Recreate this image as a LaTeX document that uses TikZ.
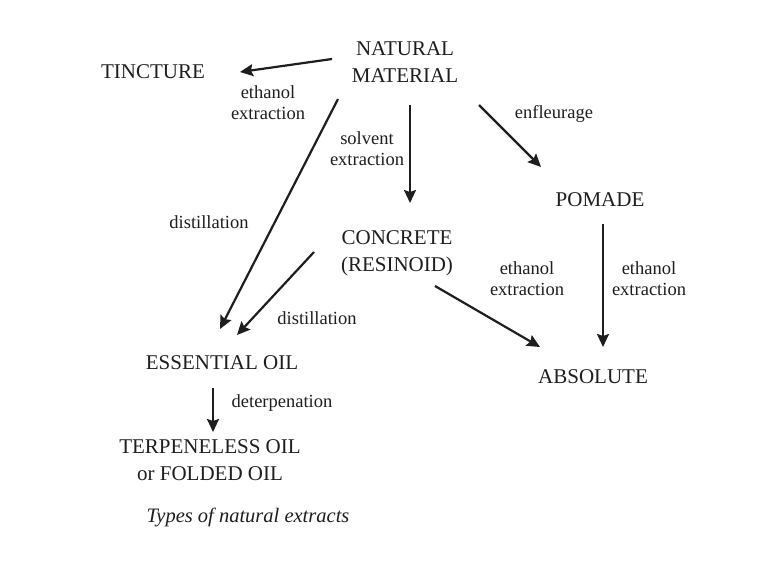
\documentclass[tikz,border=0pt]{standalone}
\usepackage{fontspec}
\setmainfont{Liberation Serif}
\usepackage{tikz}
\usetikzlibrary{arrows.meta,positioning,calc}
\definecolor{cink}{HTML}{1E1E1E}
\tikzset{
  item/.style={inner sep=0pt, align=center, text=cink, font=\fontsize{21}{27}\selectfont},
  lbl/.style={inner sep=0pt, align=center, text=cink, font=\fontsize{18.5}{21}\selectfont},
  capt/.style={inner sep=0pt, text=cink, font=\fontsize{20.5}{24}\selectfont\itshape},
  pre/.style={-{Stealth[length=13pt,width=12pt,inset=2pt]}, line width=2.2pt, draw=cink},
}

\begin{document}
\begin{tikzpicture}[x=1pt,y=-1pt]
\useasboundingbox (0,0) rectangle (760,584);
% extracts
\node[item] (nat) at (405,62) {NATURAL\\MATERIAL};
\node[item] (tinc) at (153,72) {TINCTURE};
\node[item] (conc) at (397,253) {CONCRETE\\(RESINOID)};
\node[item] (pom) at (600,200) {POMADE};
\node[item] (abs) at (593,377) {ABSOLUTE};
\node[item] (eo) at (222,363) {ESSENTIAL OIL};
\node[item] (terp) at (210,460) {TERPENELESS OIL\\or FOLDED OIL};
\node[capt] (cap) at (248,517) {Types of natural extracts};
% process names
\node[lbl] (l1) at (268,103) {ethanol\\extraction};
\node[lbl] (l2) at (367,149) {solvent\\extraction};
\node[lbl] (l3) at (209,222) {distillation};
\node[lbl] (l4) at (554,114) {enfleurage};
\node[lbl] (l5) at (317,318) {distillation};
\node[lbl] (l6) at (527,279) {ethanol\\extraction};
\node[lbl] (l7) at (649,279) {ethanol\\extraction};
\node[lbl] (l8) at (282,403) {deterpenation};
% arrows
\draw[pre] ([shift={(-73,-3)}]nat.center) -- ([shift={(87,0)}]tinc.center);
\draw[pre] ([shift={(-67,37)}]nat.center) -- ([shift={(-2,-34)}]eo.center);
\draw[pre] ([shift={(5,43)}]nat.center) -- ([shift={(13,-50)}]conc.center);
\draw[pre] ([shift={(74,43)}]nat.center) -- ([shift={(-59,-33)}]pom.center);
\draw[pre] ([shift={(-83,-1)}]conc.center) -- ([shift={(15,-28)}]eo.center);
\draw[pre] ([shift={(38,33)}]conc.center) -- ([shift={(-53,-30)}]abs.center);
\draw[pre] ([shift={(3,24)}]pom.center) -- ([shift={(10,-30)}]abs.center);
\draw[pre] ([shift={(-9,25)}]eo.center) -- ([shift={(3,-28)}]terp.center);
\end{tikzpicture}
\end{document}
